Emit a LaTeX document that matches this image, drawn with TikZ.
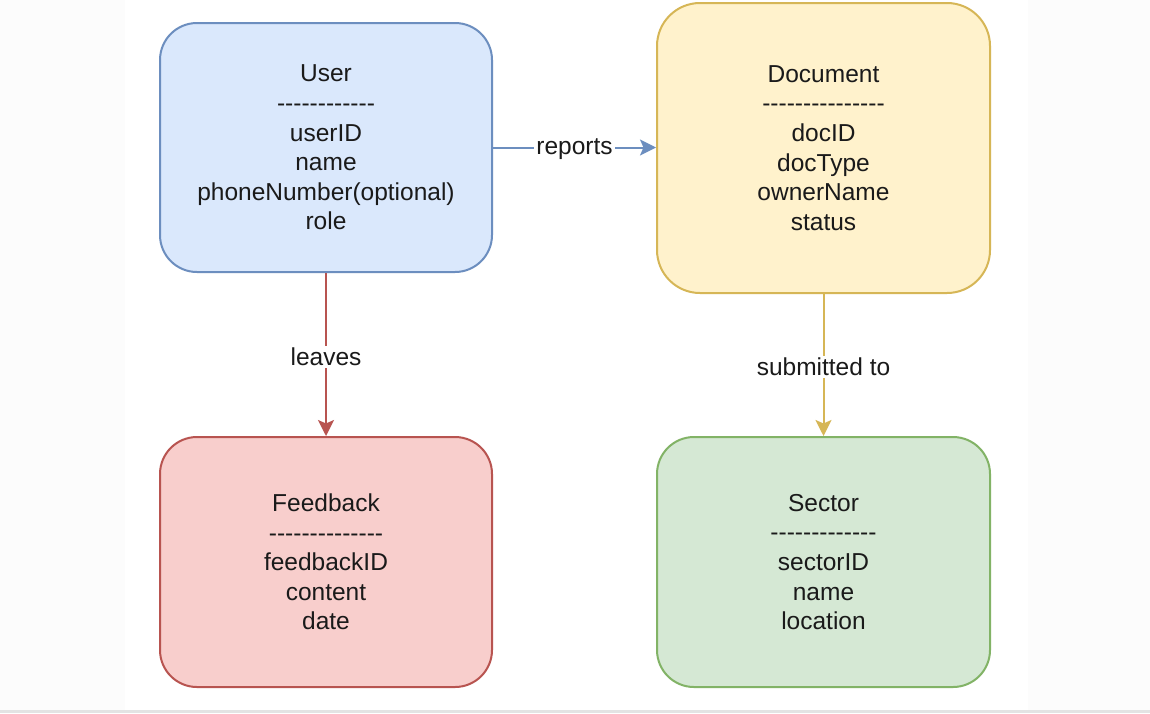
\documentclass[tikz,border=0pt]{standalone}
\usepackage{fontspec}
\newfontfamily\lib{Liberation Sans}
\usetikzlibrary{arrows.meta}
\definecolor{bluefill}{HTML}{DAE8FC}
\definecolor{bluedraw}{HTML}{6C8EBF}
\definecolor{yellowfill}{HTML}{FFF2CC}
\definecolor{yellowdraw}{HTML}{D6B656}
\definecolor{redfill}{HTML}{F8CECC}
\definecolor{reddraw}{HTML}{B85450}
\definecolor{greenfill}{HTML}{D5E8D4}
\definecolor{greendraw}{HTML}{82B366}
\definecolor{bgside}{HTML}{FCFCFC}
\definecolor{rulegray}{HTML}{E3E3E3}
\definecolor{txt}{HTML}{1A1A1A}
\tikzset{
  entity/.style={draw, line width=2pt, rounded corners=#1, align=center,
    inner sep=0pt, text=txt,
    font=\lib\fontsize{24.5}{29.6}\selectfont},
  entity/.default=37pt,
  conn/.style={line width=2pt, -{Stealth[length=16pt,width=16pt,inset=3.5pt]}},
  lab/.style={fill=white, inner sep=2pt, text=txt, yshift=-2pt,
    font=\lib\fontsize{24.5}{29.6}\selectfont}
}
\begin{document}
\begin{tikzpicture}[x=1pt,y=-1pt]
\useasboundingbox (0,0) rectangle (1150,713);
\fill[bgside] (0,0) rectangle (1150,713);
\fill[white] (125,0) rectangle (1028,709.5);
\fill[rulegray] (0,709.5) rectangle (1150,713);

\node[entity, fill=bluefill, draw=bluedraw, minimum width=332pt, minimum height=249pt]
  (user) at (326,147.5)
  {User\\------------\\userID\\name\\phoneNumber(optional)\\role};
\node[entity=43pt, fill=yellowfill, draw=yellowdraw, minimum width=333pt, minimum height=290pt]
  (doc) at (823.5,148)
  {Document\\---------------\\docID\\docType\\ownerName\\status};
\node[entity, fill=redfill, draw=reddraw, minimum width=332pt, minimum height=250pt]
  (fb) at (326,562)
  {Feedback\\--------------\\feedbackID\\content\\date};
\node[entity, fill=greenfill, draw=greendraw, minimum width=333pt, minimum height=250pt]
  (sec) at (823.5,562)
  {Sector\\-------------\\sectorID\\name\\location};

\draw[conn, draw=bluedraw, fill=bluedraw] (user.east) -- node[lab] {reports} (user.east -| doc.west);
\draw[conn, draw=reddraw, fill=reddraw] (user.south) -- node[lab] {leaves} (fb.north);
\draw[conn, draw=yellowdraw, fill=yellowdraw] (doc.south) -- node[lab] {submitted to} (sec.north);
\end{tikzpicture}
\end{document}
